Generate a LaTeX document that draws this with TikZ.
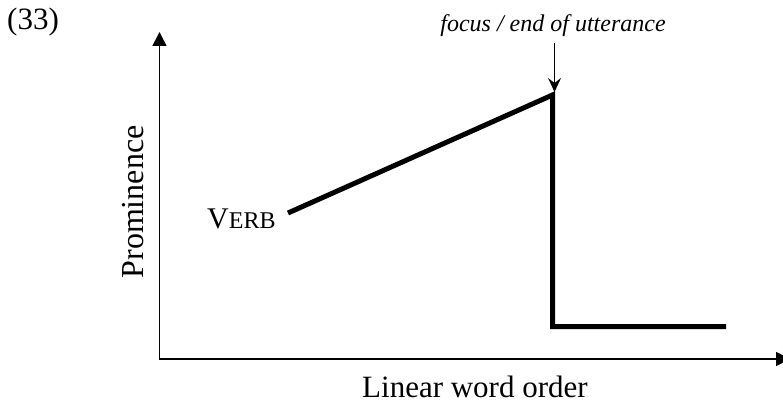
\documentclass[tikz,border=0pt]{standalone}
\usepackage{fontspec}
\setmainfont{Liberation Serif}
\usetikzlibrary{arrows.meta}
\tikzset{
  axis/.style={line width=1.6pt, -{Triangle[width=14pt,length=14pt]}},
  curve/.style={line width=5pt, line join=miter},
  pointer/.style={line width=1.3pt, -{Stealth[width=13pt,length=14pt,inset=5pt]}},
  lbl/.style={inner sep=0pt, font=\fontsize{31}{36}\selectfont},
}
\begin{document}
\begin{tikzpicture}[x=1pt,y=-1pt]
\useasboundingbox (0,0) rectangle (783,403);
% axes
\coordinate (O) at (159.5,359);
\coordinate (ytip) at (159.5,32);
\coordinate (xtip) at (790,359);
\draw[axis, -] (159.5,360) -- (O);
\draw[axis] (O) -- (ytip);
\draw[axis] ([xshift=-0.8pt]O) -- (xtip);
% profile
\coordinate (start) at (288,213);
\coordinate (peak) at (552.5,95);
\coordinate (drop) at (552.5,326.5);
\coordinate (finish) at (726,326.5);
\draw[curve] (start) -- (peak) -- (drop) -- (finish);
% labels
\node[lbl, anchor=base west] (num) at (7,30) {(33)};
\node[lbl, anchor=base west] (xlab) at (362,397) {Linear word order};
\node[lbl, anchor=base, rotate=90, font=\fontsize{32}{36}\selectfont] (ylab) at (143,202) {Prominence};
\node[inner sep=0pt, anchor=base west, font=\fontsize{30}{34}\selectfont] (verb) at (207,228) {V{\fontsize{24}{28}\selectfont ERB}};
\node[inner sep=0pt, anchor=base, font=\fontsize{24}{28}\selectfont\itshape] (focus) at (553,32) {focus / end of utterance};
\coordinate (fstart) at (554.5,43);
\coordinate (ftip) at (554.5,92);
\draw[pointer] (fstart) -- (ftip);
\end{tikzpicture}
\end{document}
